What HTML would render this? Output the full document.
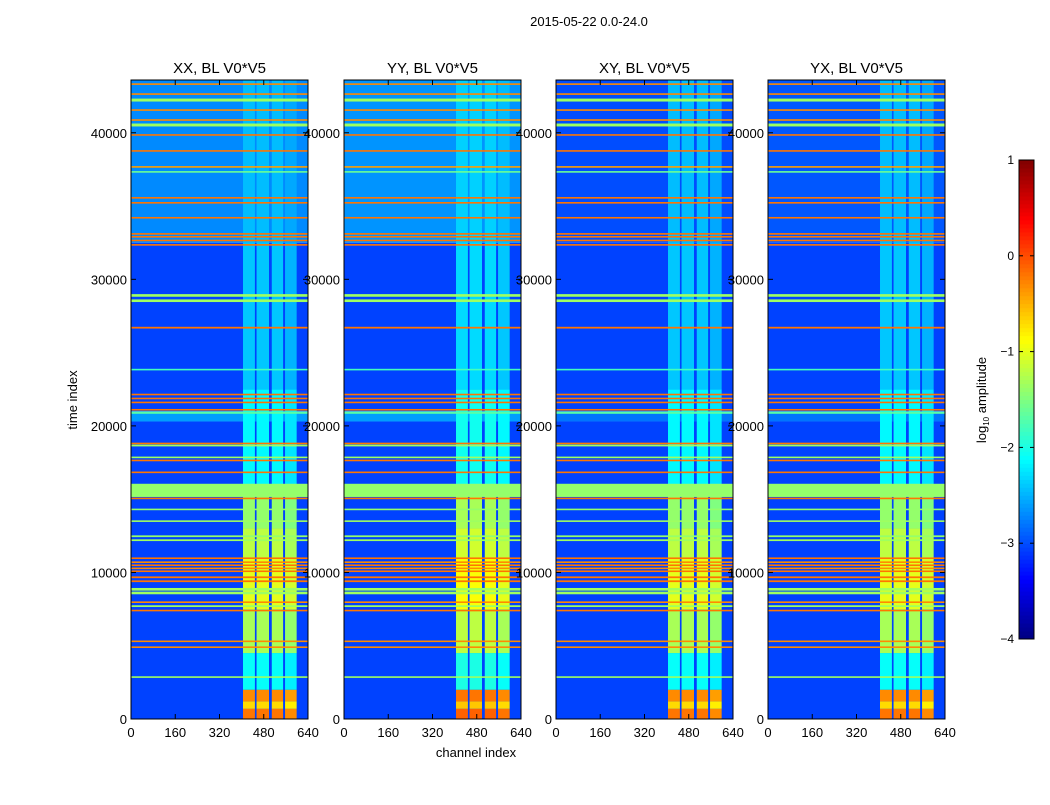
<!DOCTYPE html>
<html><head><meta charset="utf-8"><style>
body{margin:0;background:#fff;font-family:"Liberation Sans",sans-serif;}
svg text{font-family:"Liberation Sans",sans-serif;}
</style></head><body>
<svg id="fig" width="1050" height="800" viewBox="0 0 1050 800">
<text x="589" y="26" font-size="13" text-anchor="middle">2015-05-22 0.0-24.0</text>
<text x="476" y="757" font-size="13" text-anchor="middle">channel index</text>
<text transform="translate(77,400) rotate(-90)" font-size="13" text-anchor="middle">time index</text>
</svg>
<script>
// ---- data ----
const panelTitles = ["XX, BL V0*V5","YY, BL V0*V5","XY, BL V0*V5","YX, BL V0*V5"];
const panelLeft = [131,344,556,768];
const xTicks = [0,160,320,480,640];
const yTicks = [0,10000,20000,30000,40000];
const cbTicks = [1,0,-1,-2,-3,-4];
// background segments: [tStart, tEnd]
const bgSegStart = [0,20300,21000,32500];
const bgSegEnd   = [20300,21000,32500,43600];
// background level per panel per segment
const bgLevel = [[-3.05,-2.6,-3.05,-2.7],[-3.05,-2.6,-3.05,-2.65],[-3.05,-2.8,-3.05,-3.0],[-3.05,-2.8,-3.05,-2.95]];
// vertical RFI bands (channel ranges)
const bandStart = [405,454,509,557];
const bandEnd   = [448,499,550,599];
// band-level time segments
const bandSegStart = [0,700,1200,2000,4500,7500,11000,13000,16000,22500,32500];
const bandSegEnd   = [700,1200,2000,4500,7500,11000,13000,16000,22500,32500,43600];
const bandSegLevel = [-0.2,-0.7,-0.3,-2.1,-1.3,-1.0,-1.2,-1.4,-2.15,-2.4,-2.45];
// horizontal RFI lines: time, level, thickness (time units)
const lineTime = [2860,4900,5300,7400,7700,7970,8600,8850,9400,9670,10080,10280,10490,10700,10970,12200,12470,13500,14300,15050,15600,16830,17640,17850,18660,18800,20900,21100,21600,21870,22140,23840,26700,28540,28900,32350,32650,32900,33100,34200,35220,35560,37330,37670,38760,39850,40530,40870,41550,42230,42640,43320];
const lineLevel = [-1.35,-0.3,-0.3,-0.2,-1.35,-0.3,-1.35,-1.35,-0.2,-0.2,-0.2,-0.3,-0.2,-0.3,-0.2,-1.35,-1.4,-1.35,-1.4,-0.2,-1.4,-0.2,-0.2,-1.35,-1.35,-0.2,-1.7,-0.2,-0.2,-0.2,-0.2,-1.8,-0.2,-1.35,-1.35,-0.2,-0.2,-0.2,-0.2,-0.2,-0.2,-0.2,-1.6,-0.4,-0.2,-0.2,-1.35,-0.3,-0.3,-1.35,-0.3,-0.3];
const lineThick = [100,80,80,100,120,100,180,180,120,120,100,80,80,80,100,120,120,100,100,80,900,100,100,100,120,80,150,100,100,100,100,80,120,180,180,100,100,100,100,80,80,80,100,80,80,100,200,80,60,200,80,80];

// ---- helpers ----
const svg = document.getElementById('fig');
const NS = 'http://www.w3.org/2000/svg';
const top0 = 80, bot0 = 719, pw = 177, tMax = 43600;
const yScale = t => bot0 - t * (bot0 - top0) / tMax;
const xScale = (c, L) => L + c * pw / 640;
function jet(v){ // v log amplitude, range -4..1
  let x = (v + 4) / 5; x = Math.max(0, Math.min(1, x));
  const f = (a)=>Math.max(0,Math.min(1,a));
  const r = f(1.5 - Math.abs(4*x - 3)), g = f(1.5 - Math.abs(4*x - 2)), b = f(1.5 - Math.abs(4*x - 1));
  return `rgb(${Math.round(r*255)},${Math.round(g*255)},${Math.round(b*255)})`;
}
function mk(tag, attrs, parent){ const e = document.createElementNS(NS, tag); for (const k in attrs) e.setAttribute(k, attrs[k]); (parent||svg).appendChild(e); return e; }

panelTitles.forEach((title, p) => {
  const L = panelLeft[p];
  const g = mk('g', {});
  
  
  bgSegStart.forEach((s, i) => {
    const r = mk('rect', {x:L, y:yScale(bgSegEnd[i]), width:pw, height:yScale(s)-yScale(bgSegEnd[i]), fill:jet(bgLevel[p][i])}, g);
    
    
  });
  bandStart.forEach((c0, b) => {
    bandSegStart.forEach((s, i) => {
      const lv = bandSegLevel[i] + (p===1 ? 0.1 : 0) - (b===3 ? 0.1 : 0);
      const r = mk('rect', {x:xScale(c0,L), y:yScale(bandSegEnd[i]), width:xScale(bandEnd[b],L)-xScale(c0,L), height:yScale(s)-yScale(bandSegEnd[i]), fill:jet(lv)}, g);
      
      
    });
  });
  lineTime.forEach((t, i) => {
    const h = Math.max(1.6, lineThick[i] * (bot0-top0) / tMax);
    const r = mk('rect', {x:L, y:yScale(t)-h/2, width:pw, height:h, fill:jet(lineLevel[i])}, g);
    
    
  });
  const fr = mk('rect', {x:L, y:top0, width:pw, height:bot0-top0, fill:'none', stroke:'#000', 'stroke-width':1}, g);
  
  
  const tt = mk('text', {x:L+pw/2, y:73, 'font-size':15, 'text-anchor':'middle'}, g);
  tt.textContent = title;
  
  
  xTicks.forEach(c => {
    const x = xScale(c, L);
    mk('line', {x1:x, x2:x, y1:bot0, y2:bot0-5, stroke:'#000'}, g);
    mk('line', {x1:x, x2:x, y1:top0, y2:top0+5, stroke:'#000'}, g);
    const tx = mk('text', {x:x, y:737, 'font-size':13, 'text-anchor':'middle'}, g);
    tx.textContent = c;
    
    
  });
  yTicks.forEach(t => {
    const y = yScale(t);
    mk('line', {x1:L, x2:L+5, y1:y, y2:y, stroke:'#000'}, g);
    mk('line', {x1:L+pw, x2:L+pw-5, y1:y, y2:y, stroke:'#000'}, g);
    const tx = mk('text', {x:L-4, y:y+5, 'font-size':13, 'text-anchor':'end'}, g);
    tx.textContent = t;
    
    
  });
});

// colorbar
const cbX = 1019, cbW = 15, cbTop = 160, cbBot = 639;
const cbY = v => cbBot - (v + 4) * (cbBot - cbTop) / 5;
const cbg = mk('g', {});


for (let k = 0; k < 120; k++) {
  const v0 = -4 + 5 * k / 120, v1 = -4 + 5 * (k + 1) / 120;
  mk('rect', {x:cbX, y:cbY(v1), width:cbW, height:cbY(v0)-cbY(v1)+0.5, fill:jet((v0+v1)/2)}, cbg);
}
mk('rect', {x:cbX, y:cbTop, width:cbW, height:cbBot-cbTop, fill:'none', stroke:'#000'}, cbg);
cbTicks.forEach(v => {
  const y = cbY(v);
  mk('line', {x1:cbX, x2:cbX+4, y1:y, y2:y, stroke:'#000'}, cbg);
  mk('line', {x1:cbX+cbW, x2:cbX+cbW-4, y1:y, y2:y, stroke:'#000'}, cbg);
  const tx = mk('text', {x:1014, y:y+4, 'font-size':12, 'text-anchor':'end'}, cbg);
  tx.textContent = v < 0 ? '\u2212' + Math.abs(v) : v;
  
  
});
const cl = mk('text', {transform:'translate(986,400) rotate(-90)', 'font-size':13, 'text-anchor':'middle'}, cbg);
cl.innerHTML = 'log<tspan font-size="8" dy="3">10</tspan><tspan dy="-3"> amplitude</tspan>';


</script>
</body></html>
